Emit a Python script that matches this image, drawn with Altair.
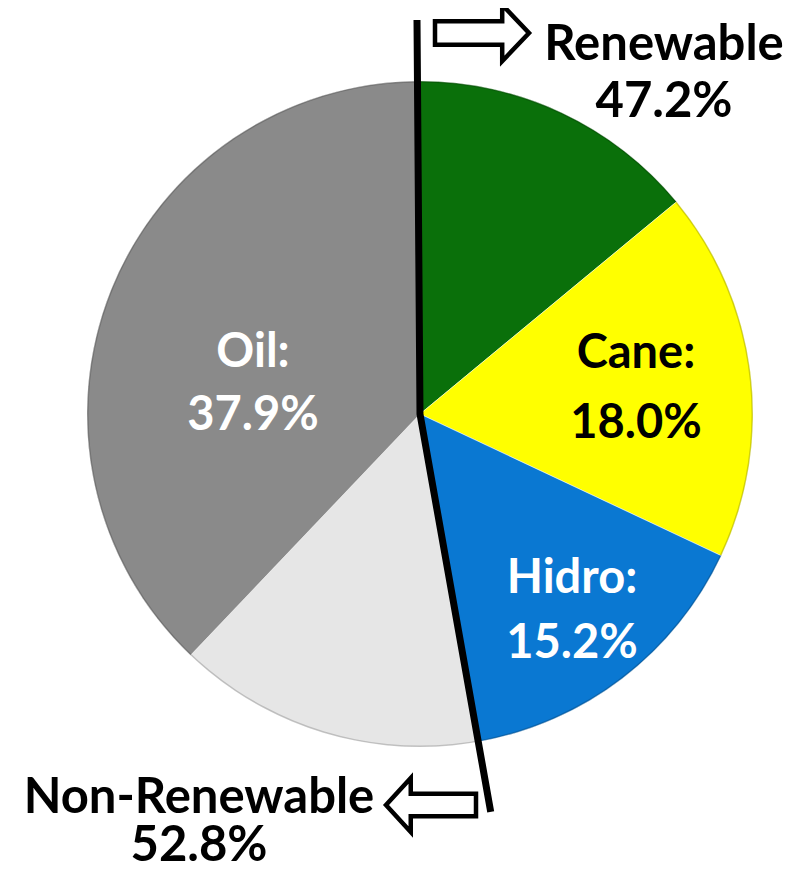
import altair as alt
import pandas as pd
import numpy as np

# ---------------- data ----------------
categories = ["Other renewables", "Cane", "Hidro", "Other non-renewables", "Oil"]
shares = [14.0, 18.0, 15.2, 14.9, 37.9]
renewable = [True, True, True, False, False]
slice_colors = ["#0a700a", "#ffff00", "#0a78d2", "#e6e6e6", "#8a8a8a"]
label_colors = ["white", "black", "white", "black", "white"]
labelled = ["Cane", "Hidro", "Oil"]
group_names = ["Renewable", "Non-Renewable"]

# ---------------- layout (page pixels) ----------------
W, H, M = 784, 862, 8
CX, CY, R = 420, 414, 333
FONT = "Lato"
# x, first baseline, line height
inner_pos = {"Cane": (636, 368, 70), "Hidro": (572, 593, 65), "Oil": (253, 367, 63)}
group_pos = {"Renewable": (664, 60, 57), "Non-Renewable": (199, 813, 48)}
arrow_pos = {"Renewable": (482, 33), "Non-Renewable": (431, 805)}
line_len_top, line_len_bottom = 394, 404

xs = alt.Scale(domain=[M, M + W], nice=False, zero=False)
ys = alt.Scale(domain=[M, M + H], nice=False, zero=False, reverse=True)

df = pd.DataFrame({"category": categories, "share": shares,
                   "order": list(range(len(categories)))})

pie = alt.Chart(df).mark_arc(outerRadius=R, stroke="white", strokeWidth=0.8,
                             strokeOpacity=0.6).encode(
    theta=alt.Theta("share:Q", stack=True),
    order=alt.Order("order:Q"),
    color=alt.Color("category:N", scale=alt.Scale(domain=categories, range=slice_colors),
                    legend=None),
    x=alt.value(CX - M), y=alt.value(CY - M),
)

# subtle rim around the pie
rim = alt.Chart(pd.DataFrame({"share": [sum(shares)]})).mark_arc(
    outerRadius=R, innerRadius=R - 1.5, fill="#000000", fillOpacity=0.18).encode(
    theta=alt.Theta("share:Q"),
    x=alt.value(CX - M), y=alt.value(CY - M),
)

# divider line along the renewable / non-renewable boundary
ren_total = sum(s for s, r in zip(shares, renewable) if r)
non_total = sum(s for s, r in zip(shares, renewable) if not r)
ang = ren_total / 100.0 * 2 * np.pi
line_df = pd.DataFrame({
    "px": [CX - 3, CX, CX + line_len_bottom * np.sin(ang)],
    "py": [CY - line_len_top, CY, CY - line_len_bottom * np.cos(ang)],
    "i": [0, 1, 2],
})
divider = alt.Chart(line_df).mark_line(color="black", strokeWidth=7, strokeJoin="miter").encode(
    x=alt.X("px:Q", scale=xs, axis=None),
    y=alt.Y("py:Q", scale=ys, axis=None),
    order="i:Q",
)


def label_layer(lines, x, y, lh, col, size):
    d = pd.DataFrame({"t": [lines], "px": [x], "py": [y]})
    return alt.Chart(d).mark_text(font=FONT, fontWeight="bold", fontSize=size,
                                  baseline="alphabetic", align="center",
                                  lineHeight=lh, color=col).encode(
        x=alt.X("px:Q", scale=xs, axis=None),
        y=alt.Y("py:Q", scale=ys, axis=None),
        text="t",
    )


texts = []
for c, s, col in zip(categories, shares, label_colors):
    if c in labelled:
        x, y, lh = inner_pos[c]
        texts.append(label_layer([f"{c}:", f"{s:.1f}%"], x, y, lh, col, 47))
for g, v in zip(group_names, [ren_total, non_total]):
    x, y, lh = group_pos[g]
    texts.append(label_layer([g, f"{v:.1f}%"], x, y, lh, "black", 49))

right_arrow = "M -1 -0.25 L 0.43 -0.25 L 0.43 -0.6 L 1 0 L 0.43 0.6 L 0.43 0.25 L -1 0.25 Z"
left_arrow = "M 1 -0.25 L -0.45 -0.25 L -0.45 -0.6 L -1 0 L -0.45 0.6 L -0.45 0.25 L 1 0.25 Z"
arr_df = pd.DataFrame({
    "g": group_names,
    "px": [arrow_pos[g][0] for g in group_names],
    "py": [arrow_pos[g][1] for g in group_names],
    "shape": [right_arrow, left_arrow],
    "sz": [94 ** 2, 90 ** 2],
})
arrows = alt.Chart(arr_df).mark_point(filled=True, fill="white", stroke="black",
                                      strokeWidth=4.5, opacity=1, fillOpacity=1,
                                      strokeOpacity=1).encode(
    x=alt.X("px:Q", scale=xs, axis=None),
    y=alt.Y("py:Q", scale=ys, axis=None),
    shape=alt.Shape("shape:N", scale=None),
    size=alt.Size("sz:Q", scale=None),
)

chart = alt.layer(pie, rim, divider, *texts, arrows).properties(
    width=W, height=H, padding=0, autosize=alt.AutoSizeParams(type="none"),
    background="white",
).configure_view(stroke=None)

chart.save("out.html", embed_options={"renderer": "svg", "actions": False})
